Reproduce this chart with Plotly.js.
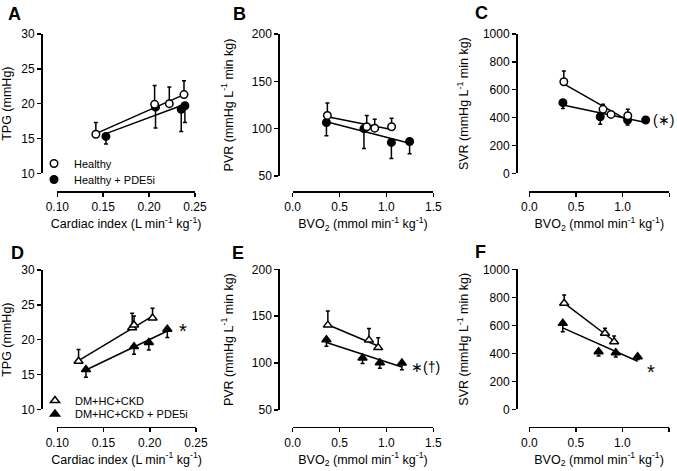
<!DOCTYPE html>
<html>
<head>
<meta charset="utf-8">
<script src="https://cdn.plot.ly/plotly-3.0.1.min.js"></script>
<style>html,body{margin:0;padding:0;background:#fff;}#chart{width:677px;height:471px;}</style>
</head>
<body>
<div id="chart"></div>
<script>
// ---------------- Data ----------------
// Panel A: TPG vs Cardiac index (Healthy)
const aOpenX = [0.142, 0.206, 0.222, 0.238];
const aOpenY = [15.6, 19.9, 20.0, 21.3];
const aOpenErr = [1.7, 2.7, 2.4, 2.0];
const aFillX = [0.153, 0.207, 0.235, 0.239];
const aFillY = [15.3, 19.5, 19.2, 19.7];
const aFillErr = [1.1, 3.0, 3.2, 2.4];

// Panel B: PVR vs BVO2 (Healthy)
const bOpenX = [0.37, 0.79, 0.875, 1.055];
const bOpenY = [114, 102, 100.5, 102];
const bOpenErr = [13, 12, 9.5, 9];
const bFillX = [0.36, 0.76, 1.053, 1.247];
const bFillY = [106.5, 100, 85.5, 86.5];
const bFillErr = [14, 21, 17, 13];

// Panel C: SVR vs BVO2 (Healthy)
const cOpenX = [0.37, 0.79, 0.875, 1.055];
const cOpenY = [657, 459, 423, 413];
const cOpenErr = [77, 37, 15, 46];
const cFillX = [0.36, 0.76, 1.053, 1.247];
const cFillY = [507, 406, 383, 383];
const cFillErr = [41, 54, 36, 15];

// Panel D: TPG vs Cardiac index (DM+HC+CKD)
const dOpenX = [0.123, 0.181, 0.183, 0.203];
const dOpenY = [16.9, 21.7, 22.1, 23.1];
const dOpenErr = [1.7, 2.1, 1.3, 1.4];
const dFillX = [0.131, 0.183, 0.199, 0.219];
const dFillY = [15.7, 19.0, 19.6, 21.5];
const dFillErr = [1.1, 1.1, 1.1, 1.2];

// Panel E: PVR vs BVO2 (DM+HC+CKD)
const eOpenX = [0.375, 0.814, 0.912];
const eOpenY = [140.5, 124.5, 116.5];
const eOpenErr = [15, 12.5, 10.5];
const eFillX = [0.36, 0.745, 0.93, 1.165];
const eFillY = [125, 105.5, 100.5, 100];
const eFillErr = [7, 6, 6, 7];

// Panel F: SVR vs BVO2 (DM+HC+CKD)
const fOpenX = [0.375, 0.814, 0.912];
const fOpenY = [757, 543, 483];
const fOpenErr = [59, 36, 41];
const fFillX = [0.36, 0.745, 0.93, 1.165];
const fFillY = [614, 411, 404, 376];
const fFillErr = [60, 30, 30, 20];

const legendTop = ["Healthy", "Healthy + PDE5i"];
const legendBottom = ["DM+HC+CKD", "DM+HC+CKD + PDE5i"];

// ---------------- Helpers ----------------
const W = 677, H = 471;
const fx = p => p / W;
const fy = p => 1 - p / H;
const FONT = 'Arial, "Liberation Sans", "Helvetica", sans-serif';
const zeros = a => a.map(() => 0);

function regression(xs, ys) {
  const n = xs.length;
  const mx = xs.reduce((s, v) => s + v, 0) / n;
  const my = ys.reduce((s, v) => s + v, 0) / n;
  let sxy = 0, sxx = 0;
  for (let i = 0; i < n; i++) { sxy += (xs[i] - mx) * (ys[i] - my); sxx += (xs[i] - mx) ** 2; }
  const b = sxy / sxx, a = my - b * mx;
  const x0 = Math.min(...xs), x1 = Math.max(...xs);
  return { x: [x0, x1], y: [a + b * x0, a + b * x1] };
}

const traces = [];
function addPanel(k, openX, openY, openErr, fillX, fillY, fillErr, sym, legIds, names) {
  const xa = k === 1 ? 'x' : 'x' + k, ya = k === 1 ? 'y' : 'y' + k;
  const tri = sym.indexOf('triangle') === 0;
  const msize = tri ? 8 : 7.5;
  [[fillX, fillY], [openX, openY]].forEach(([xs, ys]) => {
    const r = regression(xs, ys);
    traces.push({ x: r.x, y: r.y, xaxis: xa, yaxis: ya, mode: 'lines', line: { color: '#000', width: 1.5 }, showlegend: false, hoverinfo: 'skip' });
  });
  traces.push({
    x: fillX, y: fillY, xaxis: xa, yaxis: ya, mode: 'markers', name: names ? names[1] : '',
    marker: { symbol: sym, size: msize, color: '#000', line: { color: '#000', width: 1.5 } },
    error_y: { type: 'data', symmetric: false, array: zeros(fillErr), arrayminus: fillErr, color: '#000', thickness: 1.5, width: 2 },
    showlegend: !!legIds, legend: legIds ? legIds[1] : 'legend', cliponaxis: false
  });
  traces.push({
    x: openX, y: openY, xaxis: xa, yaxis: ya, mode: 'markers', name: names ? names[0] : '',
    marker: { symbol: sym, size: msize, color: '#fff', line: { color: '#000', width: 1.5 } },
    error_y: { type: 'data', symmetric: false, array: openErr, arrayminus: zeros(openErr), color: '#000', thickness: 1.5, width: 2 },
    showlegend: !!legIds, legend: legIds ? legIds[0] : 'legend', cliponaxis: false
  });
}

addPanel(1, aOpenX, aOpenY, aOpenErr, aFillX, aFillY, aFillErr, 'circle', ['legend', 'legend2'], legendTop);
addPanel(2, bOpenX, bOpenY, bOpenErr, bFillX, bFillY, bFillErr, 'circle', null, null);
addPanel(3, cOpenX, cOpenY, cOpenErr, cFillX, cFillY, cFillErr, 'circle', null, null);
addPanel(4, dOpenX, dOpenY, dOpenErr, dFillX, dFillY, dFillErr, 'triangle-up', ['legend3', 'legend4'], legendBottom);
addPanel(5, eOpenX, eOpenY, eOpenErr, eFillX, eFillY, eFillErr, 'triangle-up', null, null);
addPanel(6, fOpenX, fOpenY, fOpenErr, fFillX, fFillY, fFillErr, 'triangle-up', null, null);

// ---------------- Axes ----------------
const ciTitle = 'Cardiac index (L min<sup>-1</sup> kg<sup>-1</sup>)';
const bvoTitle = 'BVO<sub>2</sub> (mmol min<sup>-1</sup> kg<sup>-1</sup>)';
const tpgTitle = 'TPG (mmHg)';
const pvrTitle = 'PVR (mmHg L<sup>-1</sup> min kg)';
const svrTitle = 'SVR (mmHg L<sup>-1</sup> min kg)';

const panels = [
  { xd: [57.3, 195], yd: [34, 173.3], xl: 191, yl: 41, ys: 12, xr: [0.10, 0.25], yr: [10, 30], xdt: 0.05, ydt: 5, xf: '.2f', xt: ciTitle, yt: tpgTitle },
  { xd: [292.7, 433.3], yd: [34, 176], xl: 191, yl: 278.3, ys: 14, xr: [0, 1.5], yr: [50, 200], xdt: 0.5, ydt: 50, xf: '.1f', xt: bvoTitle, yt: pvrTitle },
  { xd: [529.3, 669.3], yd: [34, 173.3], xl: 191, yl: 516, ys: 10, xr: [0, 1.5], yr: [0, 1000], xdt: 0.5, ydt: 200, xf: '.1f', xt: bvoTitle, yt: svrTitle },
  { xd: [57.3, 196], yd: [270, 409.3], xl: 426.7, yl: 41, ys: 12, xr: [0.10, 0.25], yr: [10, 30], xdt: 0.05, ydt: 5, xf: '.2f', xt: ciTitle, yt: tpgTitle },
  { xd: [292.7, 433.3], yd: [269.3, 410], xl: 426.7, yl: 278.3, ys: 14, xr: [0, 1.5], yr: [50, 200], xdt: 0.5, ydt: 50, xf: '.1f', xt: bvoTitle, yt: pvrTitle },
  { xd: [529.3, 668.8], yd: [269.3, 409.3], xl: 426.7, yl: 516, ys: 10, xr: [0, 1.5], yr: [0, 1000], xdt: 0.5, ydt: 200, xf: '.1f', xt: bvoTitle, yt: svrTitle }
];

function legendAt(xPx, yTopPx) {
  return { x: fx(xPx), y: fy(yTopPx), xanchor: 'left', yanchor: 'top', bgcolor: 'rgba(0,0,0,0)', font: { size: 11, family: FONT, color: '#000' }, borderwidth: 0 };
}

const layout = {
  width: W, height: H,
  margin: { l: 0, r: 0, t: 0, b: 0 },
  paper_bgcolor: '#fff', plot_bgcolor: 'rgba(0,0,0,0)',
  font: { family: FONT, color: '#000', size: 12 },
  showlegend: true,
  legend: legendAt(34, 149),
  legend2: legendAt(34, 165),
  legend3: legendAt(35, 386),
  legend4: legendAt(35, 399.5),
  annotations: [],
  hovermode: false
};

panels.forEach((p, i) => {
  const k = i + 1;
  const xk = k === 1 ? 'xaxis' : 'xaxis' + k, yk = k === 1 ? 'yaxis' : 'yaxis' + k;
  const common = { ticks: 'outside', ticklen: 4, tickwidth: 1.5, tickcolor: '#000', showline: true, linewidth: 1.5, linecolor: '#000', showgrid: false, zeroline: false, tickfont: { size: 12, family: FONT, color: '#000' }, tickmode: 'linear', fixedrange: true };
  layout[xk] = Object.assign({}, common, {
    domain: [fx(p.xd[0]), fx(p.xd[1])], anchor: 'free', position: fy(p.xl),
    range: p.xr, tick0: p.xr[0], dtick: p.xdt, tickformat: p.xf,
    title: { text: p.xt, font: { size: 12.5, family: FONT }, standoff: 6 }
  });
  layout[yk] = Object.assign({}, common, {
    domain: [fy(p.yd[1]), fy(p.yd[0])], anchor: 'free', position: fx(p.yl),
    range: p.yr, tick0: p.yr[0], dtick: p.ydt,
    title: { text: p.yt, font: { size: 12.5, family: FONT }, standoff: p.ys }
  });
});

// Panel letters
[['A', 14, 14], ['B', 239, 14], ['C', 482, 13], ['D', 17, 253], ['E', 238, 253], ['F', 480, 252]].forEach(([t, x, y]) => {
  layout.annotations.push({ text: '<b>' + t + '</b>', xref: 'paper', yref: 'paper', x: fx(x), y: fy(y), xanchor: 'center', yanchor: 'middle', showarrow: false, font: { size: 18, family: FONT, color: '#000' } });
});
// Significance marks
[['(∗)', 663, 120, 14], ['*', 183, 331, 20], ['∗(†)', 425, 367, 14], ['*', 651, 372, 20]].forEach(([t, x, y, s]) => {
  layout.annotations.push({ text: t, xref: 'paper', yref: 'paper', x: fx(x), y: fy(y), xanchor: 'center', yanchor: 'middle', showarrow: false, font: { size: s, family: FONT, color: '#000' } });
});

Plotly.newPlot('chart', traces, layout, { displayModeBar: false, staticPlot: true });
</script>
</body>
</html>
